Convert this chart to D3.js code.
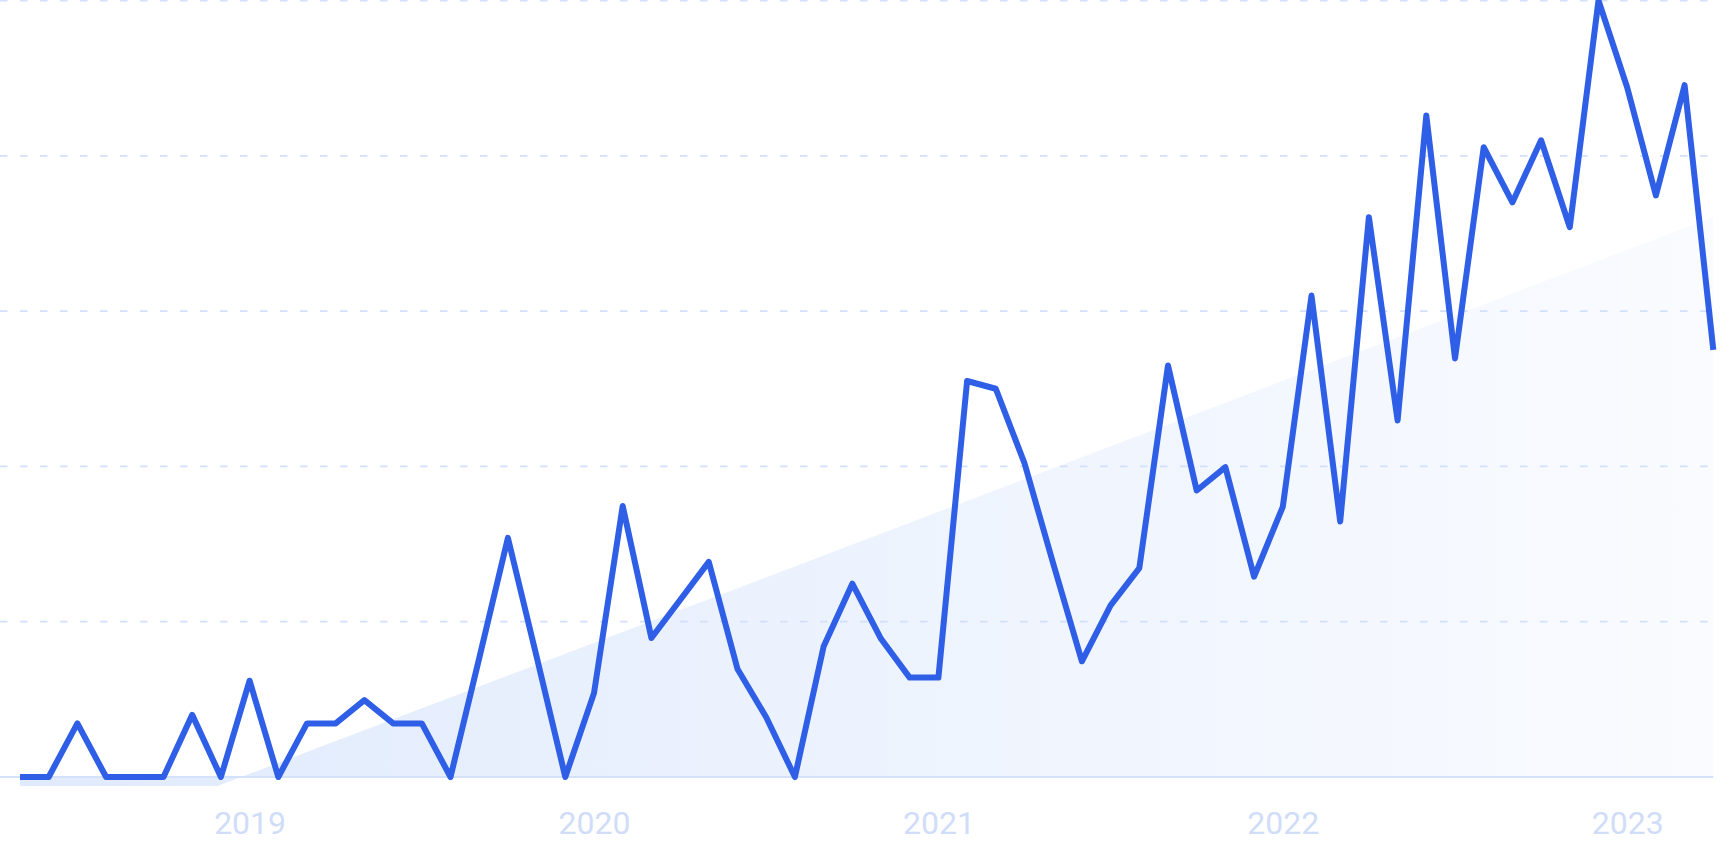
<!DOCTYPE html>
<html>
<head>
<meta charset="utf-8">
<script src="https://cdn.jsdelivr.net/npm/d3@7"></script>
<style>
  html, body { margin: 0; padding: 0; background: #ffffff; }
  svg { display: block; }
</style>
</head>
<body>
<svg id="chart" width="1720" height="860"></svg>
<script>
// ---- Data (monthly interest, May 2018 – Apr 2023, 0–100 scale) ----
const firstMonth = "2018-05";
const lastMonth = "2023-04";
const values = [
  0, 0, 6.9, 0, 0, 0, 8.0, 0, 12.4, 0,
  6.9, 6.9, 9.9, 6.9, 6.9, 0, 15.3, 30.8, 15.5, 0,
  10.8, 34.9, 17.9, 22.8, 27.7, 13.9, 7.7, 0, 16.8, 24.9,
  17.8, 12.8, 12.8, 51.0, 50.0, 40.4, 27.5, 14.9, 22.1, 26.9,
  53.0, 36.9, 39.9, 25.8, 34.8, 62.0, 32.9, 72.1, 45.9, 85.2,
  53.9, 81.1, 74.0, 82.0, 70.8, 100, 88.8, 74.9, 89.1, 55.0
];
const yearTicks = ["2019", "2020", "2021", "2022", "2023"];
const gridValues = [20, 40, 60, 80, 100];

// ---- Layout ----
const W = 1720, H = 860;
const left = 20, right = 1713.3, baseY = 777, topY = 0.5, clipBottom = 786;

const parseM = d3.timeParse("%Y-%m");
const fmtM = d3.timeFormat("%Y-%m");
const months = d3.timeMonth.range(parseM(firstMonth), d3.timeMonth.offset(parseM(lastMonth), 1)).map(fmtM);
const data = months.map((m, i) => ({ m, v: values[i] }));

const x = d3.scalePoint().domain(months).range([left, right]);
const y = d3.scaleLinear().domain([0, 100]).range([baseY, topY]);

// least-squares trend of the series
const mi = d3.mean(data, (d, i) => i);
const mv = d3.mean(data, d => d.v);
const slope = d3.sum(data, (d, i) => (i - mi) * (d.v - mv)) / d3.sum(data, (d, i) => (i - mi) * (i - mi));
const icpt = mv - slope * mi;
const trend = data.map((d, i) => ({ m: d.m, v: icpt + slope * i }));

const svg = d3.select("#chart");
const defs = svg.append("defs");

const grad = defs.append("linearGradient")
  .attr("id", "trendFill")
  .attr("gradientUnits", "userSpaceOnUse")
  .attr("x1", left).attr("y1", 0).attr("x2", right).attr("y2", 0);
grad.append("stop").attr("offset", "0%").attr("stop-color", "#3b7df0").attr("stop-opacity", 0.16);
grad.append("stop").attr("offset", "55%").attr("stop-color", "#3b7df0").attr("stop-opacity", 0.085);
grad.append("stop").attr("offset", "100%").attr("stop-color", "#3b7df0").attr("stop-opacity", 0.03);

defs.append("clipPath").attr("id", "plotClip")
  .append("rect").attr("x", 0).attr("y", 0).attr("width", W).attr("height", clipBottom);

// trend area (between zero and the trend line)
svg.append("path")
  .datum(trend)
  .attr("clip-path", "url(#plotClip)")
  .attr("fill", "url(#trendFill)")
  .attr("d", d3.area().x(d => x(d.m)).y0(y(0)).y1(d => y(d.v)));

// dashed gridlines
svg.append("g").selectAll("line")
  .data(gridValues)
  .join("line")
  .attr("x1", 0).attr("x2", right)
  .attr("y1", d => y(d)).attr("y2", d => y(d))
  .attr("stroke", "#d2e0fb")
  .attr("stroke-width", 1.8)
  .attr("stroke-dasharray", "7.5,12.5");

// baseline
svg.append("line")
  .attr("x1", 0).attr("x2", right)
  .attr("y1", y(0)).attr("y2", y(0))
  .attr("stroke", "#d3e1fa")
  .attr("stroke-width", 2);

// x axis labels
const axis = d3.axisBottom(x)
  .tickValues(yearTicks.map(yr => yr + "-01"))
  .tickFormat(d => d.slice(0, 4))
  .tickSize(0);
const gx = svg.append("g").attr("transform", `translate(0,${baseY})`).call(axis);
gx.select(".domain").remove();
gx.selectAll("text")
  .attr("y", 57).attr("dy", 0)
  .attr("fill", "#d0ddf8")
  .attr("font-family", "Roboto, 'Noto Sans', sans-serif")
  .attr("font-size", 32);

// main line
svg.append("path")
  .datum(data)
  .attr("fill", "none")
  .attr("stroke", "#2f5fe6")
  .attr("stroke-width", 6)
  .attr("stroke-linejoin", "round")
  .attr("stroke-linecap", "butt")
  .attr("d", d3.line().x(d => x(d.m)).y(d => y(d.v)));
</script>
</body>
</html>
